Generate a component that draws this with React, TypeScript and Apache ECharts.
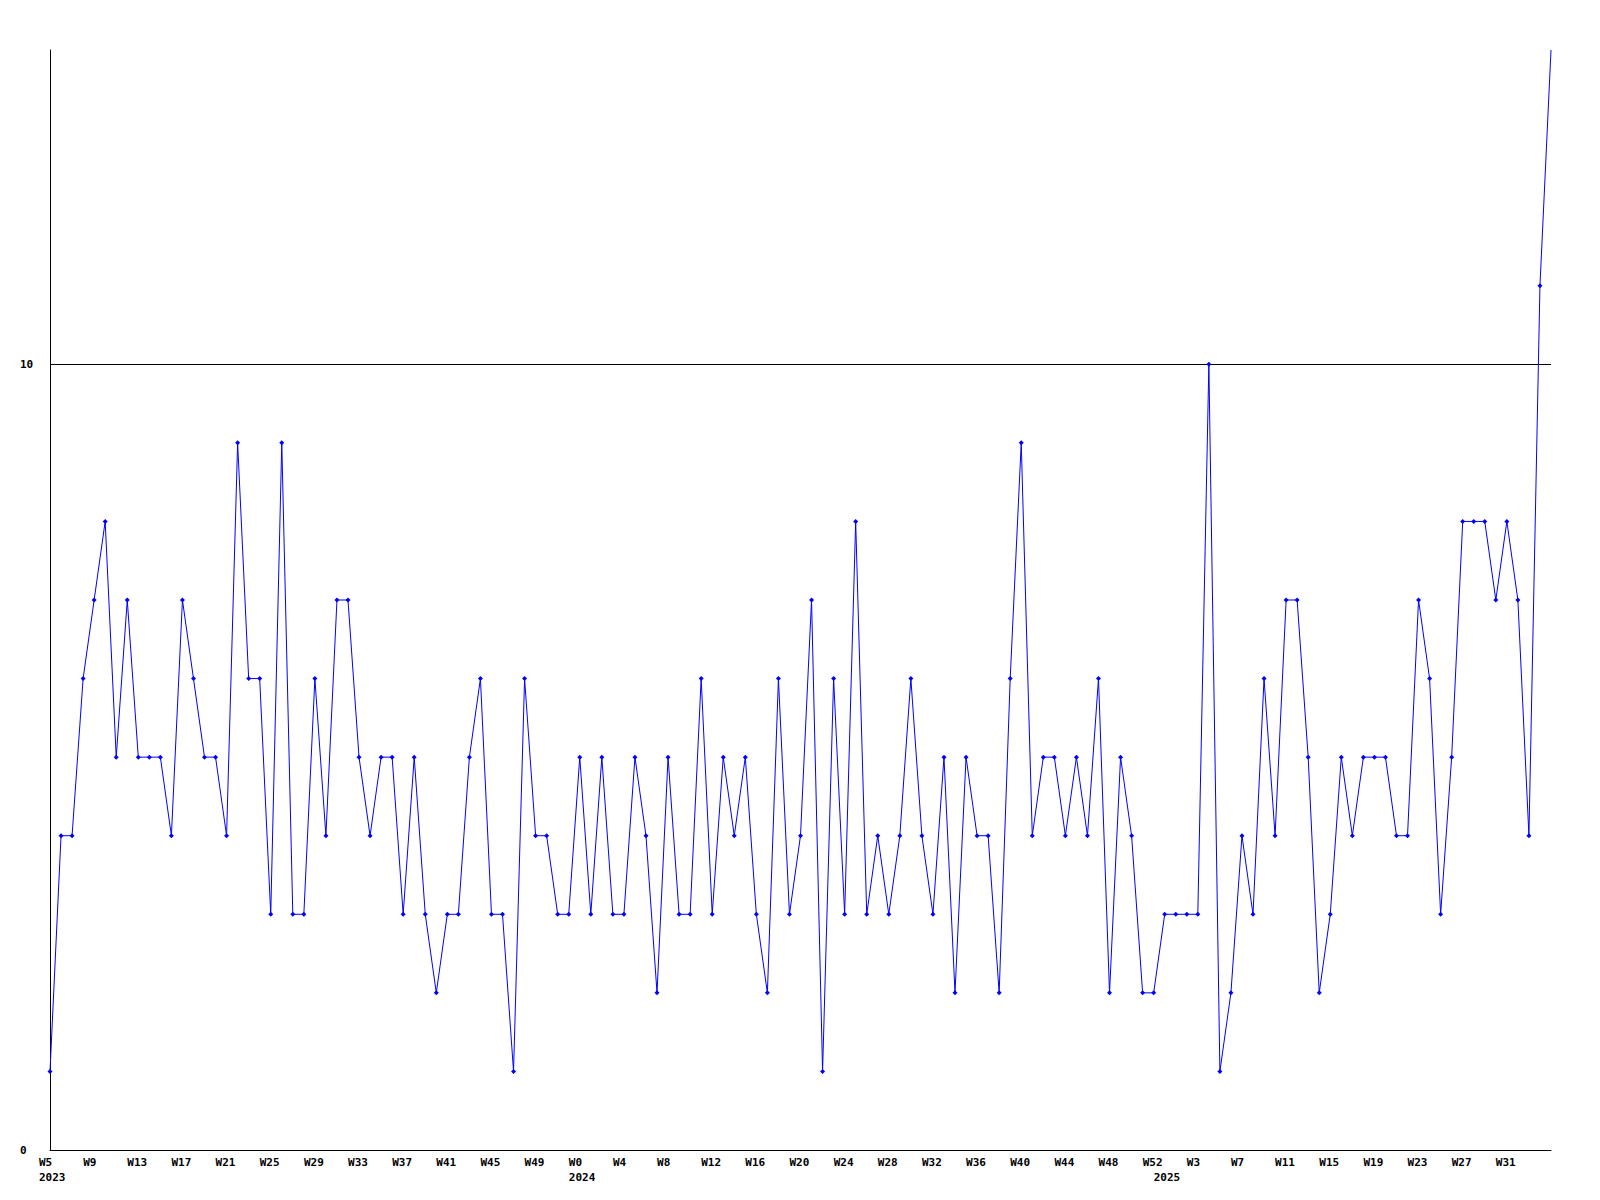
import React, { useEffect, useRef } from "react";
import * as echarts from "echarts";

// Weekly values, 2023 W5 .. 2025 W35
const values2023: number[] = [
  1, 4, 4, 6, 7, 8, 5, 7, 5, 5, 5, 4, 7, 6, 5, 5, 4, 9, 6, 6, 3, 9, 3, 3,
  6, 4, 7, 7, 5, 4, 5, 5, 3, 5, 3, 2, 3, 3, 5, 6, 3, 3, 1, 6, 4, 4, 3, 3,
];
const values2024: number[] = [
  5, 3, 5, 3, 3, 5, 4, 2, 5, 3, 3, 6, 3, 5, 4, 5, 3, 2, 6, 3, 4, 7, 1, 6,
  3, 8, 3, 4, 3, 4, 6, 4, 3, 5, 2, 5, 4, 4, 2, 6, 9, 4, 5, 5, 4, 5, 4, 6,
  2, 5, 4, 2, 2,
];
const values2025: number[] = [
  3, 3, 3, 3, 10, 1, 2, 4, 3, 6, 4, 7, 7, 5, 2, 3, 5, 4, 5, 5, 5, 4, 4, 7,
  6, 3, 5, 8, 8, 8, 7, 8, 7, 4, 11, 14,
];
const firstWeek2023 = 5;
const years = ["2023", "2024", "2025"];
const yTicks = [0, 10];
const yMax = 14;

const segments = [
  { year: years[0], start: firstWeek2023, values: values2023 },
  { year: years[1], start: 0, values: values2024 },
  { year: years[2], start: 0, values: values2025 },
];

const categories: string[] = [];
const weekNames: string[] = [];
const yearStart: Record<number, string> = {};
const allValues: number[] = [];
segments.forEach((s) => {
  yearStart[categories.length] = s.year;
  s.values.forEach((v, i) => {
    categories.push(`${s.year}-W${s.start + i}`);
    weekNames.push(`W${s.start + i}`);
    allValues.push(v);
  });
});

export default function App() {
  const ref = useRef<HTMLDivElement>(null);
  useEffect(() => {
    if (!ref.current) return;
    const chart = echarts.init(ref.current, null, { renderer: "svg" });
    const font = "DejaVu Sans Mono";
    const last = allValues.length - 1;
    chart.setOption({
      animation: false,
      backgroundColor: "#ffffff",
      grid: { left: 50, right: 49, top: 50, bottom: 50, containLabel: false },
      xAxis: {
        type: "category",
        data: categories,
        boundaryGap: false,
        axisLine: { show: true, lineStyle: { color: "#000", width: 1 } },
        axisTick: { show: false },
        splitLine: { show: false },
        axisLabel: {
          interval: (index: number) =>
            index !== last && (index % 4 === 0 || yearStart[index] !== undefined),
          formatter: (_v: string, index: number) => {
            const w = index % 4 === 0 ? weekNames[index] : "";
            const y = yearStart[index];
            return y !== undefined ? `${w}\n${y}` : w;
          },
          align: "left",
          verticalAlign: "top",
          padding: [0, 0, 0, -11],
          margin: 5,
          lineHeight: 15,
          color: "#000",
          fontFamily: font,
          fontWeight: "bold",
          fontSize: 11,
        },
      },
      yAxis: {
        type: "value",
        min: yTicks[0],
        max: yMax,
        interval: yTicks[1] - yTicks[0],
        axisLine: { show: true, lineStyle: { color: "#000", width: 1 } },
        axisTick: { show: false },
        splitLine: {
          show: true,
          lineStyle: { color: ["#000", "#000", "rgba(0,0,0,0)"], width: 1 },
        },
        axisLabel: {
          showMaxLabel: false,
          align: "left",
          margin: 30,
          color: "#000",
          fontFamily: font,
          fontWeight: "bold",
          fontSize: 11,
          formatter: (v: number) => (yTicks.includes(v) ? String(v) : ""),
        },
      },
      series: [
        {
          type: "line",
          data: allValues.map((v, i) => (i === last ? { value: v, symbol: "none" } : v)),
          symbol: "diamond",
          symbolSize: 5,
          showAllSymbol: true,
          lineStyle: { color: "#0000ff", width: 1 },
          itemStyle: { color: "#0000ff" },
          emphasis: { disabled: true },
        },
      ],
    });
    return () => chart.dispose();
  }, []);
  return <div ref={ref} style={{ width: 1600, height: 1200, position: "absolute", left: 0, top: 0 }} />;
}
